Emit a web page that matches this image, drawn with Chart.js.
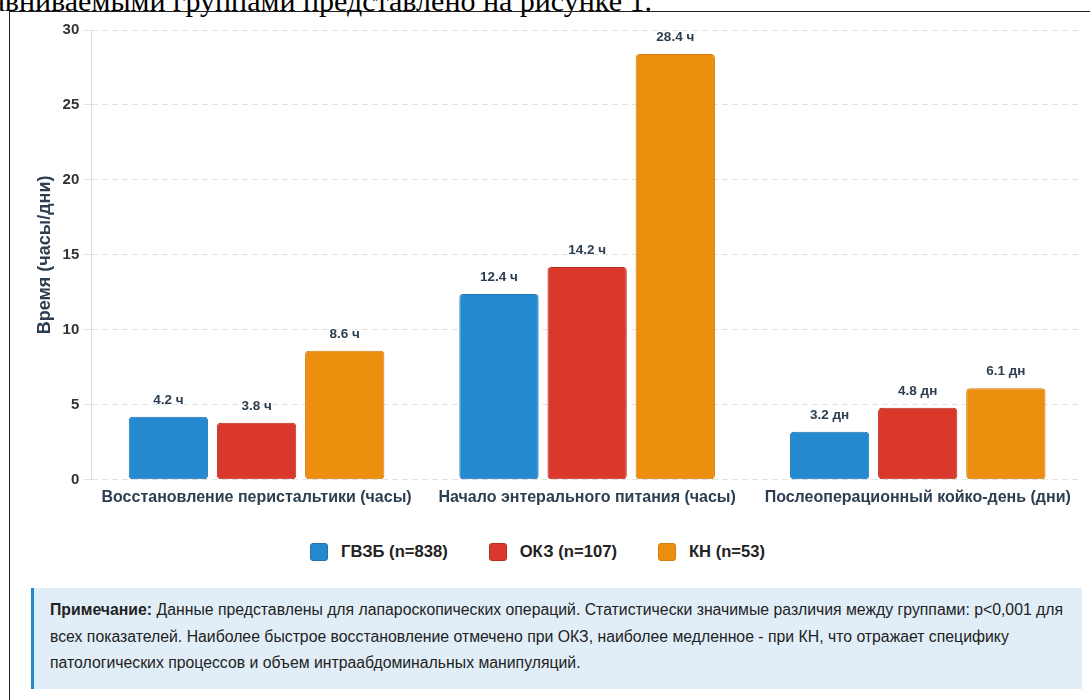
<!DOCTYPE html>
<html lang="ru">
<head>
<meta charset="utf-8">
<script src="https://cdn.jsdelivr.net/npm/chart.js@4.4.1/dist/chart.umd.min.js"></script>
<style>
  html, body { margin: 0; padding: 0; background: #fff; }
  body { width: 1090px; height: 700px; overflow: hidden; position: relative;
         font-family: "Liberation Sans", Arial, sans-serif; }
  .lead { position: absolute; right: 438px; top: -14px; white-space: nowrap; color: #000;
          font: 30px/30px "Liberation Serif", "Times New Roman", serif; }
  .frame { position: absolute; left: 9px; top: 11px; width: 1200px; height: 800px;
           border-left: 1.5px solid #222; border-top: 1.5px solid #222; }
  #chartBox { position: absolute; left: 11px; top: 13px; width: 1079px; height: 512px; }
  .legend { position: absolute; left: 0; width: 1075px; top: 542px; display: flex;
            justify-content: center; gap: 41px; }
  .legend-item { display: flex; align-items: center; gap: 13px;
                 font: bold 16.6px "Liberation Sans", Arial, sans-serif; color: #222; }
  .legend-box { width: 18px; height: 18px; border-radius: 3px; box-sizing: border-box; }
  .note { position: absolute; left: 31px; top: 588px; box-sizing: content-box;
          padding: 9px 14px 12px 16px; border-left: 3px solid #2589cf; background: #e1eef8;
          width: 1018px; font: 15.8px/26.5px "Liberation Sans", Arial, sans-serif; color: #222; }
</style>
</head>
<body>
<div class="lead">Распределение показателей между сравниваемыми группами представлено на рисунке 1.</div>
<div class="frame"></div>
<div id="chartBox"><canvas id="chart" width="1079" height="512"></canvas></div>
<div class="legend" id="legend"></div>
<div class="note"><b>Примечание:</b> Данные представлены для лапароскопических операций. Статистически значимые различия между группами: p&lt;0,001 для всех показателей. Наиболее быстрое восстановление отмечено при ОКЗ, наиболее медленное - при КН, что отражает специфику патологических процессов и объем интраабдоминальных манипуляций.</div>

<script>
// Categories and per-category units
const categories = [
  'Восстановление перистальтики (часы)',
  'Начало энтерального питания (часы)',
  'Послеоперационный койко-день (дни)'
];
const units = ['ч', 'ч', 'дн'];

// Groups
const seriesLabels = ['ГВЗБ (n=838)', 'ОКЗ (n=107)', 'КН (n=53)'];
const gvzbValues = [4.2, 12.4, 3.2];
const okzValues = [3.8, 14.2, 4.8];
const knValues = [8.6, 28.4, 6.1];

// Axis
const yTicks = [0, 5, 10, 15, 20, 25, 30];
const yTitle = 'Время (часы/дни)';

const fillColors = ['#2589cf', '#d9382b', '#ec8e0e'];
const borderColors = ['#1f74b3', '#b92e22', '#d97a0a'];

const FONT = '"Liberation Sans", Arial, sans-serif';

const seriesValues = [gvzbValues, okzValues, knValues];
const datasets = seriesLabels.map((label, i) => ({
  label,
  data: seriesValues[i],
  backgroundColor: fillColors[i],
  borderColor: borderColors[i],
  borderWidth: 1,
  borderRadius: 4,
  borderSkipped: false
}));

// Value labels above each bar
const valueLabels = {
  id: 'valueLabels',
  afterDatasetsDraw(chart) {
    const ctx = chart.ctx;
    ctx.save();
    ctx.font = 'bold 13.5px ' + FONT;
    ctx.fillStyle = '#2c3e50';
    ctx.textAlign = 'center';
    ctx.textBaseline = 'middle';
    chart.data.datasets.forEach((ds, di) => {
      chart.getDatasetMeta(di).data.forEach((bar, i) => {
        ctx.fillText(ds.data[i].toFixed(1) + ' ' + units[i], bar.x, bar.y - 17);
      });
    });
    ctx.restore();
  }
};

const chart = new Chart(document.getElementById('chart'), {
  type: 'bar',
  data: { labels: categories, datasets },
  options: {
    responsive: false,
    animation: false,
    devicePixelRatio: 1,
    layout: { padding: { top: 17, right: 7, bottom: 10, left: 16 } },
    plugins: {
      legend: { display: false },
      tooltip: { enabled: false }
    },
    scales: {
      x: {
        grid: { display: false, drawTicks: false },
        border: { display: false },
        ticks: {
          padding: 8,
          color: '#2c3e50',
          font: { family: FONT, size: 16, weight: 'bold' }
        }
      },
      y: {
        min: yTicks[0],
        max: yTicks[yTicks.length - 1],
        afterBuildTicks(scale) { scale.ticks = yTicks.map(v => ({ value: v })); },
        grid: { color: '#e2e2e2', tickLength: 8 },
        // dashed gridlines; the axis line itself stays solid
        border: { display: true, color: '#dcdcdc', dash: [6, 4] },
        ticks: {
          padding: 4,
          color: '#333',
          font: { family: FONT, size: 15, weight: 'bold' }
        },
        title: {
          display: true,
          text: yTitle,
          color: '#2c3e50',
          padding: { top: 7, bottom: 3 },
          font: { family: FONT, size: 18, weight: 'bold' }
        }
      }
    }
  },
  plugins: [valueLabels]
});

// Legend built from the chart's datasets
const legend = document.getElementById('legend');
chart.data.datasets.forEach(ds => {
  const item = document.createElement('div');
  item.className = 'legend-item';
  const box = document.createElement('span');
  box.className = 'legend-box';
  box.style.background = ds.backgroundColor;
  box.style.border = '1px solid ' + ds.borderColor;
  const txt = document.createElement('span');
  txt.textContent = ds.label;
  item.appendChild(box);
  item.appendChild(txt);
  legend.appendChild(item);
});
</script>
</body>
</html>
